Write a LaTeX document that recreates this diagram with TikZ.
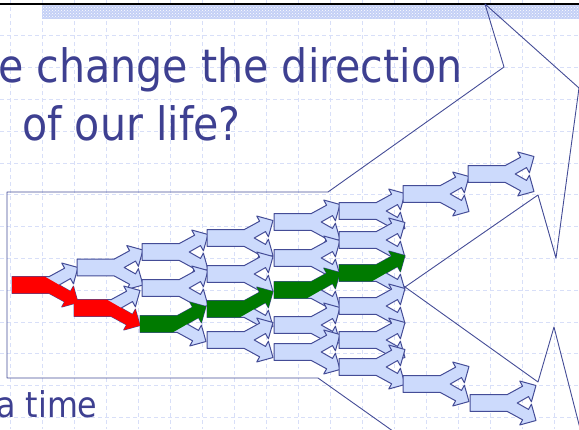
\documentclass[tikz,border=0pt]{standalone}
\usepackage{fontspec}
\usepackage{graphicx}
\newfontfamily\slidefont{DejaVu Sans}
\usetikzlibrary{positioning, patterns}
\definecolor{slideblue}{RGB}{62,64,145}
\definecolor{lineblue}{RGB}{68,76,150}
\definecolor{boxfill}{RGB}{204,218,252}
\definecolor{gridblue}{RGB}{216,223,248}
\definecolor{barblue}{RGB}{196,208,246}
\definecolor{pathred}{RGB}{255,0,0}
\definecolor{pathgreen}{RGB}{0,122,0}

\begin{document}
\begin{tikzpicture}[x=1pt, y=-1pt,
    gridline/.style={draw=gridblue, line width=0.8pt, dash pattern=on 4pt off 3pt},
    frame/.style={draw=lineblue, line width=0.9pt, line join=round},
    branch/.style={draw=lineblue, fill=boxfill, line width=1pt, line join=round},
    slidetext/.style={text=slideblue, inner sep=0pt, anchor=base west,
        font=\slidefont\fontsize{46}{50}\selectfont},
    pics/ybranch/.style={code={
        \draw[branch] (0,-8.3) -- (37,-8.3) -- (52.6,-16.8) -- (49.7,-22)
            -- (66,-17.5) -- (61.4,-1.2) -- (58.5,-6.4) -- (47.2,0) -- (58.5,6.4)
            -- (61.4,1.2) -- (66,17.5) -- (49.7,22) -- (52.6,16.8) -- (37,8.3)
            -- (0,8.3) -- cycle;
    }},
    pics/chosen/.style={code={
        \fill[#1] (0,-8.3) -- (37,-8.3) -- (52.6,-16.8) -- (49.7,-22)
            -- (66,-17.5) -- (61.4,-1.2) -- (58.5,-6.4) -- (33,8.3) -- (0,8.3) -- cycle;
    }}
]
\useasboundingbox (0,0) rectangle (579,429);
\clip (0,0) rectangle (579,429);

% background grid and top bar
\foreach \gx in {0,...,17}
    \draw[gridline] ({10+32*\gx},0) -- ++(0,429);
\foreach \gy in {0,...,13}
    \draw[gridline] (0,{4+31.8*\gy}) -- ++(579,0);
\fill[barblue] (42,5) rectangle (579,19);
\fill[pattern=crosshatch dots, pattern color=white] (42,5) rectangle (579,19);
\draw[line width=2pt] (0,3.5) -- (579,3.5);

% title and footer text
\node[slidetext] (line1) at (-2,82) {\scalebox{0.895}[1]{e change the direction}};
\node[slidetext] (line2) at (22,140) {\scalebox{0.895}[1]{of our life?}};
\node[slidetext, font=\slidefont\fontsize{35.5}{40}\selectfont] (footer)
    at (-4,417) {\scalebox{0.895}[1]{a time}};

% outline of the forking arrow
\draw[frame] (328,192) -- (7,192) -- (7,378) -- (318,378) -- (405.5,440);
\draw[frame] (328,192) -- (504,67) -- (485,4) -- (579,88) -- (556,258)
    -- (538,195) -- (400,290.5);
\draw[frame] (400,283.4) -- (538,382) -- (554,327) -- (583,440);

% tree of choices
\foreach \px/\py in {12/285, 77/267.5, 74/308,
        142/252, 142/288, 140/324,
        207/238, 207/274, 207/309, 207/340,
        274/222, 274/258, 274/290, 274/325, 274/352,
        339/211, 339/240, 339/273, 339/306, 339/340, 339/367,
        403/194, 403/384, 468/174, 470/403}
    \pic at (\px,\py) {ybranch};

% the path taken
\pic[yscale=-1] at (12,285) {chosen=pathred};
\pic[yscale=-1] at (74,308) {chosen=pathred};
\foreach \px/\py in {140/324, 207/309, 274/290, 339/273}
    \pic at (\px,\py) {chosen=pathgreen};
\end{tikzpicture}
\end{document}
